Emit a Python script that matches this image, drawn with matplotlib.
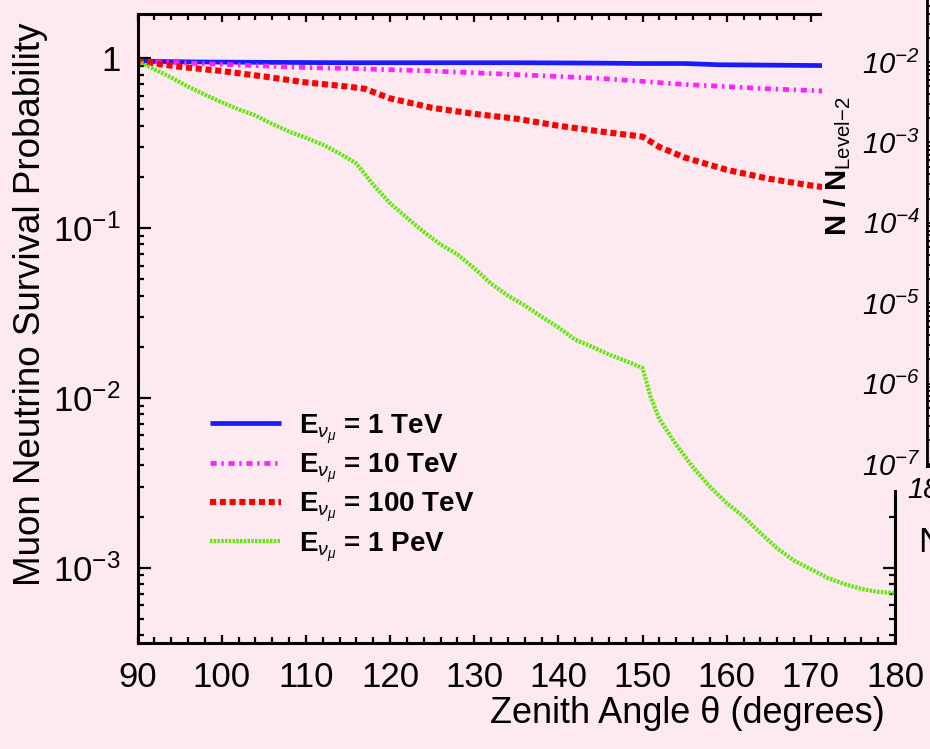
import numpy as np
import matplotlib
matplotlib.use("Agg")
import matplotlib.pyplot as plt
from matplotlib.patches import Rectangle
from matplotlib.ticker import LogLocator, NullFormatter, MultipleLocator

plt.rcParams['font.family'] = ['Liberation Sans', 'DejaVu Sans']
plt.rcParams['mathtext.fontset'] = 'custom'
plt.rcParams['mathtext.rm'] = 'Liberation Sans'
plt.rcParams['mathtext.it'] = 'Liberation Sans:italic'
plt.rcParams['mathtext.bf'] = 'Liberation Sans:bold'

# zenith angle (deg) and survival probability
angle_1tev = [90, 97, 105, 115, 125, 135, 145, 150, 155, 159, 165, 171, 180]
p_1tev = [0.96, 0.95, 0.945, 0.94, 0.94, 0.94, 0.935, 0.93, 0.93, 0.915, 0.91, 0.905, 0.90]

angle_10tev = [90, 95, 100, 105, 110, 115, 120, 125, 130, 135, 140, 145, 150, 155, 160, 165, 170, 175, 180]
p_10tev = [0.96, 0.94, 0.92, 0.90, 0.88, 0.87, 0.855, 0.84, 0.82, 0.80, 0.78, 0.76, 0.73,
           0.70, 0.68, 0.66, 0.645, 0.63, 0.62]

angle_100tev = [90, 95, 100, 105, 110, 115, 117, 120, 125, 130, 135, 140, 145, 150, 152,
                155, 160, 165, 170, 175, 180]
p_100tev = [0.96, 0.89, 0.84, 0.78, 0.72, 0.68, 0.66, 0.58, 0.51, 0.47, 0.44, 0.40, 0.37,
            0.345, 0.30, 0.26, 0.22, 0.195, 0.178, 0.165, 0.16]

angle_1pev = [90, 92, 94, 96, 98, 100, 102, 104, 106, 108, 110, 112, 114, 116, 118, 120,
              122, 124, 126, 128, 130, 132, 134, 136, 138, 140, 142, 144, 146, 148, 150,
              151, 152, 154, 156, 158, 160, 162, 164, 166, 168, 170, 172, 174, 176, 178, 180]
p_1pev = [0.96, 0.86, 0.77, 0.68, 0.61, 0.55, 0.50, 0.46, 0.41, 0.37, 0.34, 0.31, 0.275,
          0.24, 0.18, 0.14, 0.115, 0.095, 0.08, 0.07, 0.058, 0.047, 0.040, 0.035, 0.030,
          0.026, 0.022, 0.020, 0.018, 0.0165, 0.0150, 0.0100, 0.0075, 0.0053, 0.0039,
          0.0030, 0.0024, 0.0020, 0.0016, 0.0013, 0.0011, 0.00098, 0.00087, 0.00080,
          0.00075, 0.00072, 0.00071]

labels = [r'$\mathbf{E}_{\nu_{\mu}}$ = 1 TeV', r'$\mathbf{E}_{\nu_{\mu}}$ = 10 TeV',
          r'$\mathbf{E}_{\nu_{\mu}}$ = 100 TeV', r'$\mathbf{E}_{\nu_{\mu}}$ = 1 PeV']

ytick_vals = [1e-3, 1e-2, 1e-1, 1]
ytick_labels = [r'$10^{-3}$', r'$10^{-2}$', r'$10^{-1}$', '1']
xtick_vals = [90, 100, 110, 120, 130, 140, 150, 160, 170, 180]

# the neighbouring panel that overlaps on the right
side_ticks = [1e-7, 1e-6, 1e-5, 1e-4, 1e-3, 1e-2]
side_labels = [r'$\mathdefault{10^{-7}}$', r'$\mathdefault{10^{-6}}$', r'$\mathdefault{10^{-5}}$',
               r'$\mathdefault{10^{-4}}$', r'$\mathdefault{10^{-3}}$', r'$\mathdefault{10^{-2}}$']

bg = '#fceaf0'
W, H = 930, 749

fig = plt.figure(figsize=(9.3, 7.49), dpi=100, facecolor=bg)
ax = fig.add_axes([137.5 / W, 1 - 643 / H, (895 - 137.5) / W, (643 - 14) / H])
ax.set_facecolor(bg)

ax.plot(angle_1tev, p_1tev, color='#1a1aff', lw=3.4, solid_capstyle='butt', label=labels[0])
ax.plot(angle_10tev, p_10tev, color='#ff22ff', lw=3.4, dashes=(1.3, 1.0, 0.5, 1.0),
        label=labels[1])
ax.plot(angle_100tev, p_100tev, color='#ff0000', lw=4.4, dashes=(1.0, 0.6), label=labels[2])
ax.plot(angle_1pev, p_1pev, color='#66e612', lw=3.0, dashes=(0.6, 0.3), label=labels[3])

ax.set_yscale('log')
ax.set_xlim(90, 180)
ax.set_ylim(3.6e-4, 1.82)
ax.set_xticks(xtick_vals)
ax.xaxis.set_minor_locator(MultipleLocator(2))
ax.set_yticks(ytick_vals)
ax.set_yticklabels(ytick_labels)
ax.yaxis.set_minor_locator(LogLocator(base=10, subs=np.arange(2, 10)))
ax.yaxis.set_minor_formatter(NullFormatter())

ax.tick_params(axis='both', which='both', direction='in', top=True, right=True,
               width=1.6, labelsize=25)
ax.tick_params(axis='x', which='major', length=6, pad=13)
ax.tick_params(axis='x', which='minor', length=4)
ax.tick_params(axis='y', which='major', length=9, pad=12)
ax.tick_params(axis='y', which='minor', length=4.5)
for s in ax.spines.values():
    s.set_linewidth(2.2)

ax.set_ylabel('Muon Neutrino Survival Probability', fontsize=26.5)
ax.yaxis.set_label_coords(-0.118, 0.539)
ax.set_xlabel('Zenith Angle \u03b8 (degrees)', fontsize=26)
ax.xaxis.set_label_coords(0.987, -0.084)
ax.xaxis.label.set_horizontalalignment('right')

ax.legend(loc='upper left', bbox_to_anchor=(210 / W, 1 - 412 / H),
          bbox_transform=fig.transFigure, frameon=False,
          prop={'weight': 'bold', 'size': 20}, handlelength=2.55, handletextpad=0.65,
          labelspacing=0.2, borderpad=0, borderaxespad=0)

# overlapping panel on the right edge
fig.add_artist(Rectangle((822 / W, 1 - 490 / H), 1, 490 / H, transform=fig.transFigure,
                         facecolor=bg, edgecolor='none', zorder=2))
ax2 = fig.add_axes([927 / W, 1 - 466 / H, 0.05, 466 / H])
ax2.set_zorder(3)
ax2.set_facecolor(bg)
ax2.set_yscale('log')
ax2.set_ylim(10 ** -7.025, 10 ** -1.23)
ax2.set_yticks(side_ticks)
ax2.set_yticklabels(side_labels, fontstyle='italic')
ax2.yaxis.set_minor_locator(LogLocator(base=10, subs=np.arange(2, 10)))
ax2.yaxis.set_minor_formatter(NullFormatter())
ax2.set_xticks([])
ax2.tick_params(axis='y', which='both', direction='in', labelsize=21, pad=5, width=1.4)
ax2.tick_params(axis='y', which='major', length=8)
ax2.tick_params(axis='y', which='minor', length=4)
ax2.spines['top'].set_visible(False)
ax2.spines['right'].set_visible(False)
for s in ax2.spines.values():
    s.set_linewidth(2.0)

fig.text(838 / W, 1 - 166 / H, r'N / N$_{\mathrm{Level{-}2}}$', rotation=90,
         ha='center', va='center', fontsize=21, fontweight='bold', zorder=4)
fig.text(907 / W, 1 - 490 / H, '18', fontsize=21, style='italic', ha='left', va='center',
         zorder=4)
fig.text(918 / W, 1 - 543 / H, 'N', fontsize=25, ha='left', va='center', zorder=4)

fig.savefig('out.png', dpi=100, facecolor=bg)
